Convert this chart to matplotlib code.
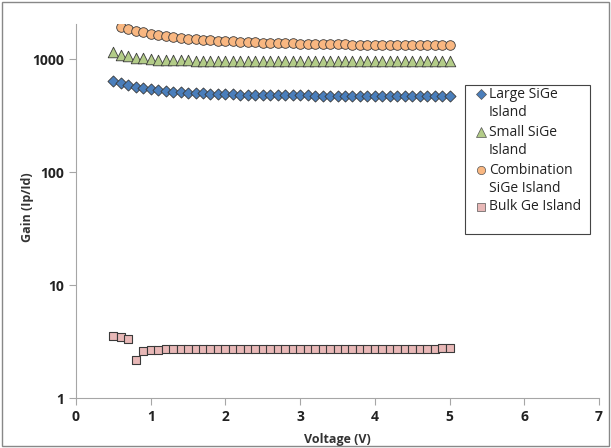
import numpy as np
import matplotlib
matplotlib.use("Agg")
import matplotlib.pyplot as plt
from matplotlib.patches import Rectangle
from matplotlib.lines import Line2D

voltage = [round(0.5 + 0.1 * i, 1) for i in range(46)]
voltage_comb = voltage[1:]

large_sige = [640, 612, 588, 568, 552, 541, 531, 523, 516, 510, 505, 501, 497, 494, 492, 490,
              488, 486, 485, 484, 483, 482, 481, 480, 479, 478, 478, 477, 477, 476, 476, 475,
              475, 475, 474, 474, 474, 473, 473, 473, 473, 472, 472, 472, 472, 472]
small_sige = [1150, 1100, 1062, 1035, 1015, 1002, 992, 986, 981, 978, 975, 972, 970, 968, 967, 966,
              965, 964, 963, 963, 962, 962, 962, 961, 961, 961, 961, 960, 960, 960, 960, 960,
              960, 960, 960, 960, 960, 960, 960, 960, 960, 960, 960, 960, 960, 960]
combination = [1920, 1850, 1785, 1725, 1675, 1633, 1600, 1572, 1547, 1525, 1506, 1490, 1475, 1462,
               1450, 1440, 1430, 1421, 1413, 1405, 1398, 1392, 1386, 1380, 1375, 1370, 1366, 1362,
               1358, 1355, 1352, 1349, 1346, 1344, 1342, 1340, 1338, 1336, 1335, 1334, 1333, 1332,
               1331, 1330, 1330]
bulk_ge = [3.55, 3.5, 3.35, 2.15, 2.6, 2.65, 2.68, 2.69, 2.7, 2.7, 2.7, 2.7, 2.7, 2.71, 2.71, 2.71,
           2.71, 2.71, 2.71, 2.71, 2.71, 2.71, 2.71, 2.71, 2.71, 2.71, 2.71, 2.71, 2.71, 2.71, 2.71,
           2.71, 2.71, 2.71, 2.71, 2.71, 2.71, 2.71, 2.71, 2.71, 2.71, 2.71, 2.71, 2.74, 2.75, 2.75]

labels = ["Large SiGe\nIsland", "Small SiGe\nIsland", "Combination\nSiGe Island", "Bulk Ge Island"]
xticks = [0, 1, 2, 3, 4, 5, 6, 7]
yticks = [1, 10, 100, 1000]

plt.rcParams['font.family'] = ['Open Sans', 'DejaVu Sans']

W, H = 611, 448
fig = plt.figure(figsize=(W / 100, H / 100), dpi=100)
ax = fig.add_axes([76 / W, 50 / H, 523 / W, 374 / H])

edge = '#3a3a3a'
styles = [
    dict(marker='D', s=32, c='#4A7EBB', lw=0.6, ms=5.0),
    dict(marker='^', s=58, c='#B3CC88', lw=0.6, ms=6.5),
    dict(marker='o', s=48, c='#F9B781', lw=0.6, ms=6.0),
    dict(marker='s', s=40, c='#E8B8B7', lw=0.8, ms=6.0),
]
series = [(voltage, large_sige), (voltage, small_sige), (voltage_comb, combination), (voltage, bulk_ge)]
for (xs, ys), st, lab in zip(series, styles, labels):
    ax.scatter(xs, ys, marker=st['marker'], s=st['s'], c=st['c'], edgecolors=edge,
               linewidths=st['lw'], label=lab, zorder=3)

ax.set_yscale('log')
ax.set_xlim(0, 7)
ax.set_ylim(1, 2050)
ax.set_xticks(xticks)
ax.set_xticklabels([str(t) for t in xticks], fontweight='bold', fontsize=10)
ax.set_yticks(yticks)
ax.set_yticklabels([str(t) for t in yticks], fontweight='bold', fontsize=10)
ax.minorticks_off()
for s in ['top', 'right']:
    ax.spines[s].set_visible(False)
for s in ['left', 'bottom']:
    ax.spines[s].set_color('#a6a6a6')
ax.tick_params(direction='out', length=5, color='#a6a6a6', labelcolor='#222222')
ax.set_xlabel('Voltage (V)', fontweight='bold', fontsize=9, color='#333333', va='center')
ax.set_ylabel('Gain (Ip/Id)', fontweight='bold', fontsize=9, color='#333333', va='center')
ax.xaxis.set_label_coords(0.5, -(439 - 398) / 374)
ax.yaxis.set_label_coords((28 - 76) / 523, (398 - 207) / 374)

# legend drawn as a fixed box (markers aligned with the first text line, as in the source)
lx0, ly0, lx1, ly1 = 465, 85, 590, 234
line_y = [94, 113, 132, 151, 170, 189, 207]
entry_first_line = [0, 2, 4, 6]
text_lines = []
for lab in labels:
    text_lines.extend(lab.split('\n'))
for yv, txt in zip(line_y, text_lines):
    fig.text(489 / W, 1 - yv / H, txt, fontsize=10, va='center', ha='left', color='#222222')
for idx, st in zip(entry_first_line, styles):
    fig.add_artist(Line2D([481 / W], [1 - line_y[idx] / H], transform=fig.transFigure,
                          marker=st['marker'], markersize=st['ms'], markerfacecolor=st['c'],
                          markeredgecolor='#555555', markeredgewidth=0.5, linestyle='none'))

fig.patches.append(Rectangle((lx0 / W, 1 - ly1 / H), (lx1 - lx0) / W, (ly1 - ly0) / H,
                             transform=fig.transFigure, fill=False, edgecolor='#444444',
                             linewidth=0.8, zorder=5))
fig.patches.append(Rectangle((2 / W, 2 / H), (W - 4) / W, (H - 4) / H, transform=fig.transFigure,
                             fill=False, edgecolor='#888888', linewidth=1))

fig.savefig('out.png', dpi=100)
